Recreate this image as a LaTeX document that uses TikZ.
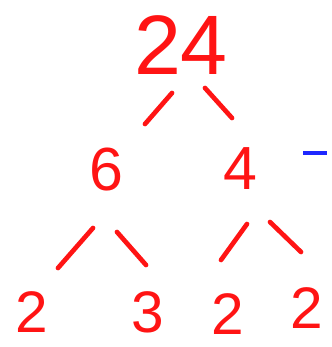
\documentclass[tikz,border=0pt]{standalone}
\usepackage{fontspec}
\setmainfont{Liberation Sans}
\usepackage{tikz}
\usetikzlibrary{calc}
\definecolor{ink}{RGB}{255,20,20}
\definecolor{pen}{RGB}{30,40,255}

\begin{document}
\begin{tikzpicture}[
  x=0.03cm, y=-0.03cm,
  root/.style={text=ink,inner sep=0pt,font=\fontsize{72}{72}\selectfont},
  num/.style={text=ink,inner sep=0pt,font=\fontsize{52}{52}\selectfont},
  leaf/.style={text=ink,inner sep=0pt,font=\fontsize{50}{50}\selectfont},
  bluebar/.style={fill=pen,inner sep=0pt,minimum width=0.72cm,minimum height=0.12cm},
  branch/.style={draw=ink,line width=4pt,line cap=round}
]
\useasboundingbox (0,0) rectangle (331,347);
\node[root]    (n24) at (181,45)  {24};
\node[num]     (n6)  at (106,170) {6};
\node[num]     (n4)  at (240,169) {4};
\node[bluebar] (bar) at (315,153) {};
\node[leaf]    (l1)  at (32,312)  {2};
\node[leaf]    (l2)  at (148,312) {3};
\node[leaf]    (l3)  at (228,314) {2};
\node[leaf]    (l4)  at (307,308) {2};

\draw[branch] ($(n24)+(-9,48)$)--($(n6)+(39,-46)$);
\draw[branch] ($(n24)+(24,43)$)--($(n4)+(-8,-51)$);
\draw[branch] ($(n6)+(-13,58)$)--($(l1)+(26,-44)$);
\draw[branch] ($(n6)+(11,62)$)--($(l2)+(-2,-47)$);
\draw[branch] ($(n4)+(7,55)$)--($(l3)+(-7,-54)$);
\draw[branch] ($(n4)+(30,53)$)--($(l4)+(-6,-56)$);
\end{tikzpicture}
\end{document}
